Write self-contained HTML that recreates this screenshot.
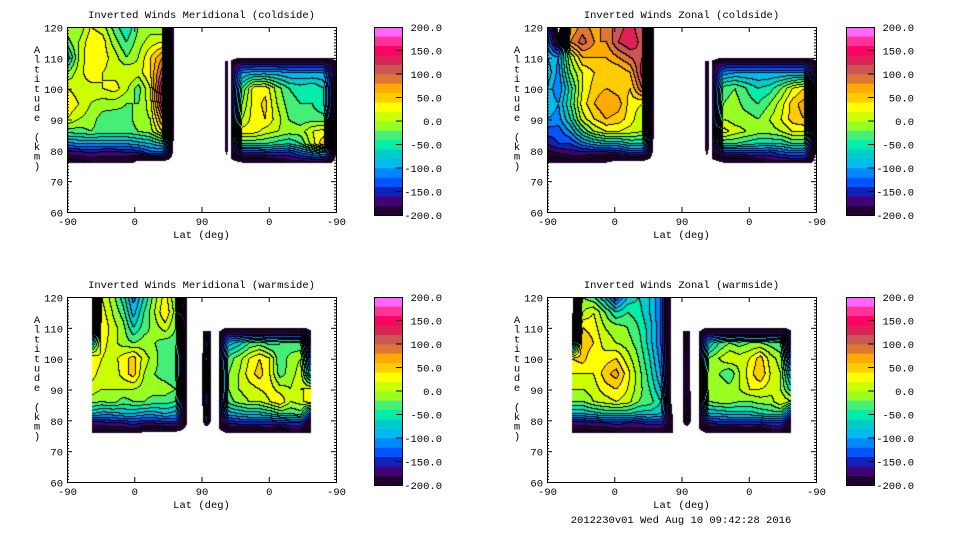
<!DOCTYPE html>
<html><head><meta charset="utf-8">
<style>
html,body{margin:0;padding:0;background:#fff;}
#root{position:relative;width:960px;height:540px;overflow:hidden;font-family:"Liberation Mono","DejaVu Sans Mono",monospace;}
canvas{position:absolute;}
svg{position:absolute;left:0;top:0;}
</style></head>
<body>
<div id="root">
<canvas id="c1" width="269" height="185" style="left:67px;top:27px"></canvas>
<canvas id="c2" width="269" height="185" style="left:547px;top:27px"></canvas>
<canvas id="c3" width="269" height="185" style="left:67px;top:297px"></canvas>
<canvas id="c4" width="269" height="185" style="left:547px;top:297px"></canvas>
<svg id="svg" width="960" height="540"></svg>
</div>
<script>
const levelValues=[-200,-180,-160,-140,-120,-100,-80,-60,-40,-20,0,20,40,60,80,100,120,140,160,180,200];
const levelColors=["#220033","#440077","#1122bb","#0055ff","#0088ff","#00bbee","#00cccc","#00eeaa","#44ee77","#99ff22","#ccff00","#ffff00","#ffcc00","#ffaa00","#dd7733","#cc5555","#dd2255","#ff0066","#ff3399","#ff66ff"];
const colorbarLabels=["200.0","150.0","100.0","50.0","0.0","-50.0","-100.0","-150.0","-200.0"];
const xTickLabels=["-90","0","90","0","-90"];
const yTickLabels=["60","70","80","90","100","110","120"];
const panelTitles=["Inverted Winds Meridional (coldside)","Inverted Winds Zonal (coldside)","Inverted Winds Meridional (warmside)","Inverted Winds Zonal (warmside)"];

const altsLeft=[120,115,110,105,100,95,90,86,82,79,76];
const altsRight=[110,108,105,100,95,90,86,82,79,76];
const altsStrip=[109,100,90,80,78];

const p1LeftRange=[0,144];
const p1LeftVals=[
[0,-20,20,10,-30,-60,-20,-10,-20,-250],
[-30,0,35,30,-10,-40,-10,10,20,-250],
[-80,0,40,30,10,-20,0,40,80,-250],
[-20,10,35,20,10,20,10,40,110,-250],
[20,10,10,20,30,5,-30,20,150,-250],
[40,20,0,-10,-10,-20,-20,10,130,-250],
[20,0,-10,-30,-35,-30,-10,0,80,-250],
[-30,-30,-20,-30,-30,-30,-20,-10,40,-250],
[-110,-100,-100,-100,-100,-100,-90,-80,-60,-250],
[-170,-170,-160,-170,-170,-165,-160,-130,-130,-250],
[-210,-210,-200,-200,-200,-200,-250,-250,-250,-250]];
const p1StripRange=[211,216];
const p1StripVals=[[-240,-205,-240],[-240,-205,-240],[-240,-205,-240],[-240,-205,-240],[-250,-235,-250]];
const p1RightRange=[219,360];
const p1RightVals=[
[-250,-220,-215,-215,-215,-215,-215,-215,-215,-250],
[-200,-170,-170,-170,-170,-170,-170,-170,-170,-200],
[-200,-100,-90,-90,-90,-100,-100,-100,-100,-200],
[-200,-40,30,35,-10,-40,-50,-40,-60,-220],
[-200,-20,30,45,0,-30,-40,-40,-60,-220],
[-200,0,30,40,10,-20,-30,-30,-30,-220],
[-200,30,30,10,0,-10,-10,20,30,-220],
[-200,-40,-40,-40,-50,-60,-40,10,60,-230],
[-200,-150,-150,-140,-140,-150,-120,-100,-80,-230],
[-250,-230,-230,-230,-210,-190,-190,-190,-190,-250]];

const p2LeftRange=[0,144];
const p2LeftVals=[
[-120,-250,60,90,70,90,110,130,100,-250],
[-100,-200,80,110,80,80,120,140,110,-250],
[-80,-100,0,60,60,60,80,100,120,-250],
[-60,-110,-20,20,40,40,40,60,130,-250],
[-80,-120,-50,20,50,60,50,40,100,-250],
[-80,-100,-40,30,60,80,70,30,20,-250],
[-100,-110,-60,10,40,60,50,30,0,-250],
[-130,-130,-100,-40,0,20,20,10,0,-250],
[-160,-140,-140,-110,-90,-80,-80,-60,-60,-250],
[-190,-180,-170,-170,-170,-170,-160,-140,-140,-250],
[-220,-220,-210,-210,-230,-230,-250,-250,-250,-250]];
const p2StripRange=[211,217];
const p2StripVals=[[-240,-205,-240],[-240,-205,-240],[-240,-205,-240],[-240,-205,-240],[-250,-235,-250]];
const p2RightRange=[221,360];
const p2RightVals=[
[-250,-220,-215,-215,-215,-215,-215,-215,-215,-250],
[-200,-170,-170,-170,-170,-170,-170,-170,-170,-200],
[-200,-110,-100,-100,-100,-100,-100,-100,-100,-200],
[-200,-30,-20,-40,-60,-50,-20,20,40,-200],
[-200,-20,-10,-30,-40,-20,10,50,70,-200],
[-200,0,-10,-10,-20,0,20,50,60,-200],
[-200,30,10,0,-10,-10,0,20,20,-200],
[-200,-40,-40,-50,-60,-60,-60,-40,-40,-220],
[-200,-150,-150,-140,-140,-150,-130,-120,-120,-230],
[-250,-230,-230,-230,-210,-190,-190,-190,-190,-250]];

const p3LeftRange=[33,160];
const p3LeftVals=[
[-220,20,-10,-50,-110,-60,-10,30,-20,-220],
[-220,30,0,-30,-90,-40,0,40,-10,-220],
[-215,40,10,-10,-60,-30,-10,10,-20,-220],
[-80,30,10,-10,-20,-10,-20,-30,-30,-220],
[40,20,10,30,50,10,-10,-40,-40,-220],
[30,10,0,30,50,0,-20,-30,-40,-220],
[10,0,0,0,0,-10,-10,-10,-20,-220],
[-10,-20,-10,-30,-20,-20,-30,-30,-40,-220],
[-80,-90,-90,-80,-80,-90,-90,-80,-90,-220],
[-170,-170,-160,-160,-150,-160,-160,-150,-150,-225],
[-210,-210,-210,-210,-200,-240,-240,-240,-240,-250]];
const p3StripRange=[181,193];
const p3StripVals=[[-240,-160,-240],[-235,-120,-235],[-235,-130,-235],[-235,-160,-235],[-250,-235,-250]];
const p3RightRange=[203,327];
const p3RightVals=[
[-250,-220,-215,-215,-215,-215,-215,-215,-215,-250],
[-220,-170,-170,-170,-170,-170,-170,-170,-170,-200],
[-210,-90,-70,-40,-30,-50,-40,-40,-40,-200],
[-200,-30,-10,20,40,20,-40,-10,0,-150],
[-200,-20,0,30,50,20,-30,-10,10,-100],
[-200,-20,0,10,20,30,10,0,20,20],
[-200,-30,-10,0,0,20,40,0,10,40],
[-200,-90,-80,-70,-70,-60,-40,-40,-30,-150],
[-200,-160,-150,-150,-150,-150,-150,-140,-140,-220],
[-250,-220,-220,-220,-220,-210,-230,-200,-200,-230]];

const p4LeftRange=[33,168];
const p4LeftVals=[
[-250,-20,-40,-80,-140,-80,-60,-80,-120,-250],
[-250,0,20,-20,-60,-40,-50,-80,-120,-250],
[-215,40,30,0,-10,-20,-40,-70,-120,-250],
[-150,60,40,10,0,-10,-30,-70,-120,-250],
[40,50,20,30,40,10,-20,-60,-110,-250],
[20,20,20,50,70,30,-10,-50,-100,-250],
[0,0,10,30,40,20,-10,-40,-80,-250],
[-20,-20,0,10,20,10,-20,-30,-60,-250],
[-80,-80,-70,-60,-60,-60,-70,-70,-80,-230],
[-170,-170,-160,-160,-150,-160,-160,-150,-150,-220],
[-210,-210,-210,-210,-200,-200,-200,-200,-200,-230]];
const p4StripRange=[181,193];
const p4StripVals=[[-240,-180,-240],[-235,-205,-235],[-235,-205,-235],[-235,-170,-235],[-250,-235,-250]];
const p4RightRange=[203,327];
const p4RightVals=[
[-250,-220,-215,-215,-215,-215,-215,-215,-215,-250],
[-220,-170,-170,-170,-170,-170,-170,-170,-170,-200],
[-210,-80,-40,-20,-30,-20,-20,-30,-40,-200],
[-200,-20,0,20,10,20,50,10,-10,-150],
[-200,-10,-20,-40,0,30,60,20,0,-100],
[-200,-10,0,-10,0,20,20,10,0,-50],
[-200,-20,-10,-10,-20,-20,-10,-10,20,0],
[-200,-80,-80,-70,-70,-70,-60,-50,-50,-150],
[-200,-160,-150,-150,-150,-150,-150,-140,-140,-220],
[-250,-220,-220,-220,-220,-210,-230,-200,-200,-230]];

const panels=[
 {canvas:"c1",L:67,T:27,cb:374,blocks:[[p1LeftRange,altsLeft,p1LeftVals],[p1StripRange,altsStrip,p1StripVals],[p1RightRange,altsRight,p1RightVals]]},
 {canvas:"c2",L:547,T:27,cb:846,blocks:[[p2LeftRange,altsLeft,p2LeftVals],[p2StripRange,altsStrip,p2StripVals],[p2RightRange,altsRight,p2RightVals]]},
 {canvas:"c3",L:67,T:297,cb:374,blocks:[[p3LeftRange,altsLeft,p3LeftVals],[p3StripRange,altsStrip,p3StripVals],[p3RightRange,altsRight,p3RightVals]]},
 {canvas:"c4",L:547,T:297,cb:846,blocks:[[p4LeftRange,altsLeft,p4LeftVals],[p4StripRange,altsStrip,p4StripVals],[p4RightRange,altsRight,p4RightVals]]}
];
const W=269,H=185;
function xScale(u){return u/360*W;}
function yScale(a){return (120-a)/60*H;}
function hexRgb(h){return [parseInt(h.substr(1,2),16),parseInt(h.substr(3,2),16),parseInt(h.substr(5,2),16)];}
const rgbs=levelColors.map(hexRgb);
function bandOf(v){
 if(v<-230) return -2;
 if(v<-200) return -1;
 let b=Math.floor((v+200)/20); if(b>19)b=19; return b;
}
function sample(block,u,a){
 const [rng,alts,vals]=block;
 if(u<rng[0]||u>rng[1]) return null;
 if(a>alts[0]||a<alts[alts.length-1]) return null;
 const nc=vals[0].length;
 let fx=(u-rng[0])/(rng[1]-rng[0])*(nc-1);
 let i=Math.min(Math.floor(fx),nc-2); let tx=fx-i;
 let j=0; while(j<alts.length-2 && a<alts[j+1]) j++;
 let ty=(alts[j]-a)/(alts[j]-alts[j+1]);
 return (1-ty)*((1-tx)*vals[j][i]+tx*vals[j][i+1])+ty*((1-tx)*vals[j+1][i]+tx*vals[j+1][i+1]);
}
panels.forEach(p=>{
 const cv=document.getElementById(p.canvas);const ctx=cv.getContext('2d');
 const img=ctx.createImageData(W,H);
 const bands=new Int16Array(W*H).fill(-3);
 for(let py=0;py<H;py++){const a=120-(py+0.5)/H*60;
  for(let px=0;px<W;px++){const u=(px+0.5)/W*360;
   for(const b of p.blocks){const v=sample(b,u,a); if(v!==null){bands[py*W+px]=bandOf(v);break;}}
  }}
 for(let py=0;py<H;py++)for(let px=0;px<W;px++){
  const k=py*W+px,b=bands[k];const o=k*4;
  if(b<=-2) continue;
  let c=b===-1?[26,0,40]:rgbs[b];
  const r=px+1<W?bands[k+1]:b, d=py+1<H?bands[k+W]:b;
  if((r>-2&&r!==b)||(d>-2&&d!==b)) c=[0,0,0];
  img.data[o]=c[0];img.data[o+1]=c[1];img.data[o+2]=c[2];img.data[o+3]=255;
 }
 ctx.putImageData(img,0,0);
});
const svg=document.getElementById('svg');const NS="http://www.w3.org/2000/svg";
function mk(tag,attrs,name,parent){const e=document.createElementNS(NS,tag);for(const k in attrs)e.setAttribute(k,attrs[k]);
 
 
 (parent||svg).appendChild(e);return e;}
function txt(x,y,s,anchor,name){const t=mk('text',{x:x,y:y,'font-size':'10.5','font-family':'Liberation Mono, DejaVu Sans Mono, monospace','text-anchor':anchor,fill:'#000'},name);t.textContent=s;return t;}
panels.forEach((p,pi)=>{
 const L=p.L,T=p.T;
 mk('rect',{x:L+0.5,y:T+0.5,width:W,height:H,fill:'none',stroke:'#000','stroke-width':1},'plot-frame');
 txt(L+W/2,T-9,panelTitles[pi],'middle','panel-title');
 xTickLabels.forEach((s,i)=>{const x=L+0.5+xScale(i*90);
  mk('line',{x1:x,y1:T+H,x2:x,y2:T+H-5,stroke:'#000'},'x-tick');
  mk('line',{x1:x,y1:T,x2:x,y2:T+5,stroke:'#000'},'x-tick-top');
  txt(x,T+H+13,s,'middle','x-tick-label');});
 txt(L+W/2,T+H+26,'Lat (deg)','middle','x-axis-title');
 for(let a=60;a<=120;a++){const y=T+0.5+yScale(a);const len=(a%10===0)?5:2;
  mk('line',{x1:L,y1:y,x2:L+len,y2:y,stroke:'#000'},'y-tick');
  mk('line',{x1:L+W,y1:y,x2:L+W-len,y2:y,stroke:'#000'},'y-tick-right');}
 yTickLabels.forEach((s,i)=>{const y=T+0.5+yScale(60+i*10);txt(L-4,y+4,s,'end','y-tick-label');});
 const title="Altitude (km)";
 const g=mk('text',{x:L-30,y:T+26,'font-size':'10.5','font-family':'Liberation Mono, monospace','text-anchor':'middle'},'y-axis-title');
 for(let i=0;i<title.length;i++){const ts=document.createElementNS(NS,'tspan');ts.setAttribute('x',L-30);ts.setAttribute('dy',i?9.7:0);ts.textContent=title[i]===' '?'\u00a0':title[i];g.appendChild(ts);}
 const cbT=T,cbH=188,bh=cbH/levelColors.length;
 levelColors.forEach((c,i)=>{mk('rect',{x:p.cb,y:cbT+cbH-(i+1)*bh,width:28,height:bh+0.3,fill:c},'colorbar-band');});
 mk('rect',{x:p.cb+0.5,y:cbT+0.5,width:28,height:cbH,fill:'none',stroke:'#000'},'colorbar-frame');
 colorbarLabels.forEach((s,i)=>{const y=cbT+i*cbH/8;
  if(i>0&&i<8) mk('line',{x1:p.cb+28,y1:y,x2:p.cb+22,y2:y,stroke:'#000'},'colorbar-tick');
  txt(p.cb+68,y+4,s,'end','colorbar-label');});
});
txt(681,523,'2012230v01 Wed Aug 10 09:42:28 2016','middle','timestamp-footer');
</script>
</body></html>
